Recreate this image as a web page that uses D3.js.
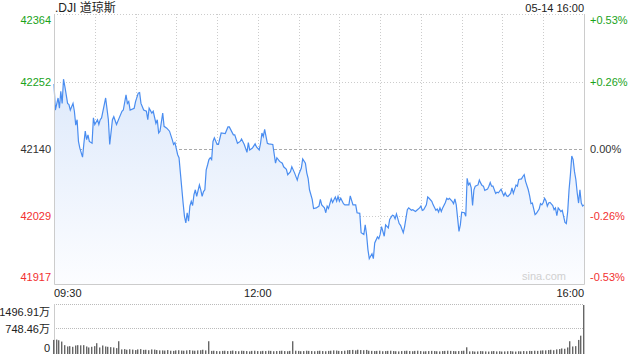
<!DOCTYPE html>
<html>
<head>
<meta charset="utf-8">
<script src="https://cdn.jsdelivr.net/npm/d3@7"></script>
<style>
  html, body { margin: 0; padding: 0; background: #fff; }
  svg { display: block; font-family: Arial, "Liberation Sans", "Noto Sans CJK SC", sans-serif; }
</style>
</head>
<body>
<svg id="chart" width="640" height="360"></svg>
<script>
const title = '.DJI 道琼斯'
const stamp = '05-14 16:00'
const prevClose = 42140
const priceTicks = [41917, 42029, 42140, 42252, 42364]
const pctTicks = ['-0.53%', '-0.26%', '0.00%', '+0.26%', '+0.53%']
const timeTicks = [0, 150, 390]
const timeLabels = ['09:30', '12:00', '16:00']
const volTicks = [0, 748.46, 1496.91]
const volLabels = ['0', '748.46万', '1496.91万']

// minutes after 09:30
const minutes = [
  0,1,3,4,5,6,7,8,9,10,
  11,12,14,15,16,17,18,19,21,22,
  23,24,25,26,28,29,30,32,33,34,
  35,37,38,40,41,43,44,46,48,50,
  51,53,54,55,56,59,60,62,63,64,
  66,68,69,70,72,73,75,76,77,78,
  80,81,83,85,87,88,89,91,92,93,
  95,96,97,98,99,100,101,102,103,104,
  105,107,108,109,110,111,112,113,114,115,
  116,117,118,120,121,123,126,128,129,132,
  133,135,137,138,140,142,143,144,146,148,
  149,151,152,153,154,155,157,158,161,163,
  164,166,168,169,171,172,174,175,177,179,
  180,182,183,185,186,187,188,190,191,193,
  195,196,197,199,200,201,202,204,205,207,
  208,209,210,211,213,214,217,218,220,222,
  223,225,226,228,229,230,231,232,234,235,
  236,238,239,240,241,243,244,246,247,249,
  250,251,252,254,255,257,258,260,261,263,
  264,266,267,269,270,271,272,274,275,276,
  278,279,281,282,283,284,285,286,288,289,
  290,291,293,294,295,296,297,298,299,300,
  302,303,304,305,306,307,308,309,310,312,
  313,314,315,316,317,319,320,321,322,323,
  325,326,327,329,330,331,332,333,334,336,
  337,338,339,340,341,342,344,345,346,347,
  349,350,351,352,354,355,357,358,359,360,
  361,362,363,364,365,367,368,369,370,371,
  372,373,374,375,376,377,378,379,380,381,
  382,383,384,385,386,387,388,389,390
]
const prices = [
  42248,42205,42225,42208,42236,42216,42256,42244,42230,42216,
  42214,42205,42216,42203,42180,42189,42153,42142,42127,42150,
  42170,42156,42164,42153,42150,42192,42181,42189,42181,42189,
  42192,42214,42225,42189,42148,42189,42194,42181,42192,42203,
  42205,42230,42216,42219,42205,42208,42219,42233,42234,42216,
  42205,42203,42189,42208,42200,42203,42183,42189,42167,42170,
  42200,42178,42175,42170,42156,42148,42151,42131,42126,42101,
  42051,42029,42018,42035,42021,42046,42054,42047,42065,42073,
  42062,42081,42073,42062,42070,42073,42106,42114,42123,42126,
  42123,42153,42159,42148,42148,42167,42166,42177,42177,42164,
  42164,42150,42153,42157,42148,42135,42151,42139,42142,42149,
  42144,42139,42150,42167,42161,42173,42150,42149,42148,42117,
  42126,42120,42117,42111,42107,42098,42103,42111,42101,42089,
  42098,42109,42124,42117,42101,42092,42073,42057,42042,42043,
  42046,42057,42048,42043,42035,42046,42042,42058,42052,42061,
  42054,42062,42054,42059,42050,42048,42048,42063,42048,42048,
  42035,42034,42002,41999,42015,41999,41974,41959,41967,41959,
  41985,41995,41992,41999,42012,41996,42015,42010,42024,42031,
  42030,42025,42033,42017,42014,42002,42012,42040,42043,42039,
  42040,42037,42039,42043,42046,42039,42040,42048,42061,42059,
  42054,42048,42039,42041,42036,42043,42037,42043,42052,42059,
  42057,42059,42054,42050,42058,42048,42026,42004,42015,42036,
  42035,42029,42092,42081,42084,42076,42047,42073,42079,42081,
  42089,42084,42080,42079,42072,42074,42079,42085,42079,42079,
  42067,42069,42068,42074,42068,42063,42068,42063,42062,42067,
  42076,42067,42074,42081,42079,42090,42091,42095,42098,42087,
  42073,42063,42050,42051,42032,42034,42041,42050,42048,42052,
  42059,42055,42046,42051,42052,42047,42040,42043,42030,42043,
  42040,42037,42039,42029,42019,42017,42037,42073,42098,42129,
  42123,42103,42090,42068,42051,42073,42051,42046,42048
]

// volume, one bar every 2 minutes (unit: 万)
const volStep = 2
const volumes = [
  430,440,420,380, 270,230,240,
  220,260,270,265,270,230,200,220,240,
  330,
  200,260,230,220,210,200,180,
  390,
  140,150,130,145,135,120,140,150,125,130,115,140,135,120,110,
  110,105,120,100,95,110,115,105,100,110,120,105,100,110,
  115,130,110,
  390,
  95,100,90,85,95,100,90,95,105,90,85,100,95,90,80,95,100,90,85,95,90,100,95,85,90,95,100,90,85,95,
  390,
  100,95,85,90,100,95,90,85,95,100,
  90,85,95,100,110,105,95,90,100,115,
  120,125,110,130,120,115,125,100,95,90,
  95,100,85,90,95,100,90,85,80,90,
  95,100,90,85,95,100,90,80,85,90,
  95,90,85,80,90,95,100,95,90,85,
  90,95,100,
  205,
  80,85,75,80,90,85,80,75,85,90,80,85,75,80,85,90,80,75,85,80,90,85,95,90,100,95,105,110,
  110,120,130,115,140,150,
  170,160,200,
  390,
  230,240,
  430,
  560,
  1496.91
]

class MinuteChart {

    left = 54
    right = 584
    top = 14
    bottom = 284
    volTop = 305
    volBottom = 354

    constructor(id) {
        this.svg = d3.select(`#${id}`)
        this.x = d3.scaleLinear().domain([0, 390]).range([this.left, this.right])
        this.y = d3.scaleLinear().domain([priceTicks[0], priceTicks[4]]).range([this.bottom, this.top])
        this.v = d3.scaleLinear().domain([0, volTicks[2]]).range([this.volBottom, this.volTop])
    }

    tickColor(p) {
        if (p > prevClose) return '#1aa31a'
        if (p < prevClose) return '#f23030'
        return '#333'
    }

    init() {
        const svg = this.svg, x = this.x, y = this.y, v = this.v

        const grad = svg.append('defs').append('linearGradient')
            .attr('id', 'fill').attr('gradientUnits', 'userSpaceOnUse')
            .attr('x1', 0).attr('x2', 0).attr('y1', this.top).attr('y2', this.bottom)
        grad.append('stop').attr('offset', 0).attr('stop-color', '#d4e3fa')
        grad.append('stop').attr('offset', 1).attr('stop-color', '#fcfdff')

        // vertical grid every 30 min
        svg.append('g').selectAll('line')
            .data(d3.range(30, 390, 30))
            .join('line')
            .attr('x1', d => Math.round(x(d)) + 0.5).attr('x2', d => Math.round(x(d)) + 0.5)
            .attr('y1', this.top).attr('y2', this.bottom)
            .style('stroke', '#ccc').style('stroke-dasharray', '1,2')

        // horizontal grid
        svg.append('g').selectAll('line')
            .data(priceTicks.slice(1))
            .join('line')
            .attr('x1', this.left).attr('x2', this.right)
            .attr('y1', d => Math.round(y(d)) + 0.5).attr('y2', d => Math.round(y(d)) + 0.5)
            .style('stroke', d => d === prevClose ? '#aaa' : '#ccc')
            .style('stroke-dasharray', d => d === prevClose ? '3,2' : '1,2')

        const pts = minutes.map((m, i) => [m, prices[i]])

        svg.append('path')
            .datum(pts)
            .attr('d', d3.area().x(d => x(d[0])).y0(this.bottom).y1(d => y(d[1])))
            .style('fill', 'url(#fill)')

        svg.append('path')
            .datum(pts)
            .attr('d', d3.line().x(d => x(d[0])).y(d => y(d[1])))
            .style('fill', 'none')
            .style('stroke', '#4a8df0')
            .style('stroke-width', 1.2)

        // frame
        svg.append('path')
            .attr('d', `M${this.left + 0.5},${this.top}V${this.bottom + 0.5}H${this.right + 0.5}V${this.top}`)
            .style('fill', 'none').style('stroke', '#ccc')

        svg.append('text')
            .attr('x', this.right - 40).attr('y', this.bottom - 4)
            .attr('text-anchor', 'middle')
            .style('font-size', '11px').style('fill', '#d0d0d0')
            .text('sina.com')

        // price labels
        const n = priceTicks.length
        const labY = (d, i) => i === n - 1 ? y(d) + 10 : (i === 0 ? y(d) - 3 : y(d) + 4)
        svg.append('g').selectAll('text')
            .data(priceTicks)
            .join('text')
            .attr('x', this.left - 3).attr('y', labY)
            .attr('text-anchor', 'end')
            .style('font-size', '11px')
            .style('fill', d => this.tickColor(d))
            .text(d => d)

        svg.append('g').selectAll('text')
            .data(priceTicks)
            .join('text')
            .attr('x', this.right + 6).attr('y', labY)
            .style('font-size', '11px')
            .style('fill', d => this.tickColor(d))
            .text((d, i) => pctTicks[i])

        // time labels
        svg.append('g').selectAll('text')
            .data(timeTicks)
            .join('text')
            .attr('x', d => x(d)).attr('y', this.bottom + 13)
            .attr('text-anchor', (d, i) => i === 0 ? 'start' : (i === timeTicks.length - 1 ? 'end' : 'middle'))
            .style('font-size', '11px').style('fill', '#222')
            .text((d, i) => timeLabels[i])

        svg.append('text')
            .attr('x', this.left + 1).attr('y', 12)
            .style('font-size', '12px').style('fill', '#222')
            .text(title)

        svg.append('text')
            .attr('x', this.right).attr('y', 12)
            .attr('text-anchor', 'end')
            .style('font-size', '11px').style('fill', '#222')
            .text(stamp)

        // volume panel
        svg.append('g').selectAll('line')
            .data(volTicks.slice(1))
            .join('line')
            .attr('x1', this.left).attr('x2', this.right)
            .attr('y1', d => Math.round(v(d)) - 0.5).attr('y2', d => Math.round(v(d)) - 0.5)
            .style('stroke', '#bbb').style('stroke-dasharray', '1,1')

        svg.append('line')
            .attr('x1', this.left + 0.5).attr('x2', this.left + 0.5)
            .attr('y1', this.volTop - 1).attr('y2', this.volBottom)
            .style('stroke', '#ccc')

        svg.append('g').selectAll('rect')
            .data(volumes)
            .join('rect')
            .attr('x', (d, i) => Math.round(x(i * volStep)) - 1)
            .attr('width', 1.4)
            .attr('y', d => v(d))
            .attr('height', d => this.volBottom - v(d))
            .style('fill', '#666')

        svg.append('g').selectAll('text')
            .data(volTicks)
            .join('text')
            .attr('x', this.left - 4)
            .attr('y', (d, i) => i === 0 ? v(d) - 2 : (i === 2 ? v(d) + 11 : v(d) + 4))
            .attr('text-anchor', 'end')
            .style('font-size', '11px').style('fill', '#222')
            .text((d, i) => volLabels[i])
    }
}

if (minutes.length !== prices.length) console.error('length mismatch', minutes.length, prices.length)

new MinuteChart('chart').init()
</script>
</body>
</html>
